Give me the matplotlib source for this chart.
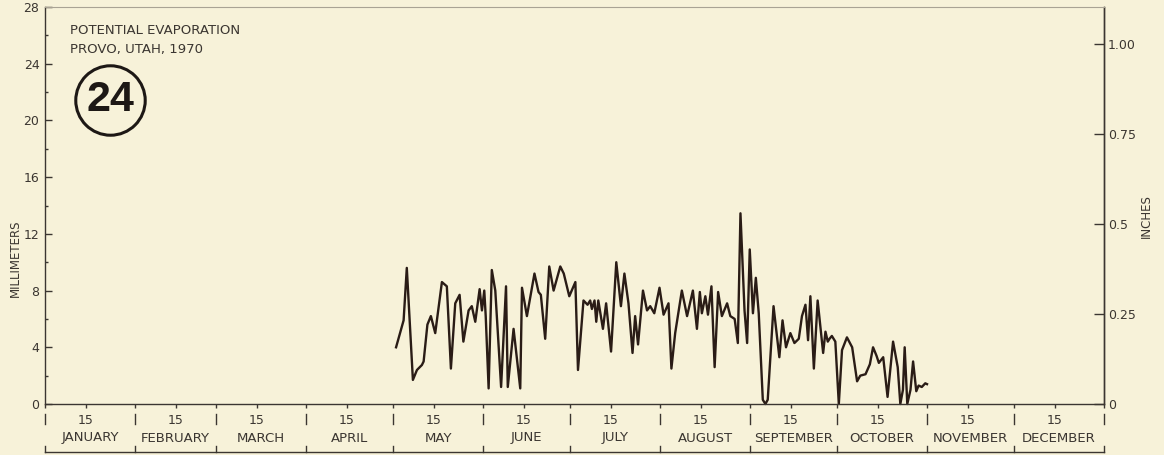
import matplotlib
matplotlib.use("Agg")
import matplotlib.pyplot as plt
import matplotlib.transforms as mtrans

# ---- data (days after Jan 1, 1970; potential evaporation in mm) ----
day = [121.0, 123.6, 124.7, 126.8, 128.2, 129.9, 130.5, 131.8, 133.0, 134.5,
       136.8, 138.5, 139.9, 141.4, 142.9, 144.2, 146.0, 147.1, 148.3, 149.8,
       150.6, 151.4, 151.9, 152.9, 154.0, 155.2, 157.2, 158.9, 159.5, 161.5,
       163.8, 164.4, 166.1, 168.7, 170.1, 170.9, 172.4, 173.8, 175.3, 177.6,
       178.8, 180.7, 182.8, 183.7, 185.6, 187.0, 187.9, 188.5, 189.4, 190.0,
       190.7, 192.3, 193.4, 195.1, 196.9, 198.5, 199.7, 201.1, 202.5, 203.4,
       204.4, 206.1, 207.5, 208.6, 210.0, 211.8, 213.2, 214.9, 215.9, 217.2,
       219.5, 221.3, 223.3, 224.7, 225.7, 226.4, 227.6, 228.5, 229.7, 230.8,
       232.0, 233.3, 235.1, 236.2, 237.7, 238.8, 239.7, 241.1, 242.0, 242.9,
       244.0, 245.0, 246.0, 247.4, 248.3, 249.1, 251.1, 253.1, 254.2, 255.4,
       256.9, 258.3, 259.8, 260.9, 262.1, 263.0, 263.8, 265.0, 266.3, 268.2,
       269.0, 269.8, 270.4, 271.2, 272.4, 273.6, 274.7, 276.4, 278.2, 279.9,
       281.0, 282.8, 284.3, 285.4, 286.6, 287.4, 288.9, 290.4, 292.3, 293.9,
       294.8, 295.7, 296.3, 297.2, 298.3, 299.2, 300.3, 301.1, 302.2, 303.4,
       304.0]
evap_mm = [4.0, 5.9, 9.6, 1.7, 2.4, 2.75, 3.0, 5.6, 6.2, 5.0,
           8.6, 8.3, 2.5, 7.1, 7.7, 4.4, 6.6, 6.9, 5.8, 8.1,
           6.6, 8.0, 6.2, 1.1, 9.45, 8.0, 1.2, 8.3, 1.2, 5.3,
           1.1, 8.2, 6.2, 9.2, 7.9, 7.7, 4.6, 9.7, 8.0, 9.7,
           9.2, 7.6, 8.6, 2.4, 7.3, 7.0, 7.3, 6.7, 7.3, 5.8,
           7.3, 5.3, 7.1, 3.7, 10.0, 6.9, 9.2, 7.1, 3.6, 6.2,
           4.2, 8.0, 6.6, 6.9, 6.4, 8.2, 6.3, 7.1, 2.5, 5.0,
           8.0, 6.2, 8.0, 5.3, 7.9, 6.4, 7.6, 6.3, 8.3, 2.6,
           7.9, 6.2, 7.1, 6.2, 6.0, 4.3, 13.45, 6.6, 4.3, 10.9,
           6.4, 8.9, 6.4, 0.3, 0.0, 0.3, 6.9, 3.3, 5.9, 4.0,
           5.0, 4.3, 4.6, 6.2, 7.0, 4.5, 7.6, 2.5, 7.3, 3.6,
           5.1, 4.4, 4.6, 4.8, 4.4, 0.0, 3.8, 4.7, 4.0, 1.6,
           2.0, 2.1, 2.8, 4.0, 3.4, 2.9, 3.3, 0.5, 4.4, 2.6,
           0.0, 1.0, 4.0, 0.0, 1.0, 3.0, 0.9, 1.3, 1.2, 1.46,
           1.4]

months = ["JANUARY", "FEBRUARY", "MARCH", "APRIL", "MAY", "JUNE", "JULY",
          "AUGUST", "SEPTEMBER", "OCTOBER", "NOVEMBER", "DECEMBER"]
month_start = [0, 31, 59, 90, 120, 151, 181, 212, 243, 273, 304, 334, 365]
mm_ticks = [0, 4, 8, 12, 16, 20, 24, 28]
inch_ticks = [0, 0.25, 0.5, 0.75, 1.0]
inch_labels = ["0", "0.25", "0.5", "0.75", "1.00"]

# ---- style ----
bg = "#f7f2d9"
ink = "#3b3631"
line_c = "#2a1c16"

W, H = 1164, 455
fig = plt.figure(figsize=(W / 100, H / 100), dpi=100, facecolor=bg)
ax = fig.add_axes([45 / W, 1 - 404 / H, 1059 / W, 397 / H])
ax.set_facecolor(bg)

ax.plot(day, evap_mm, color=line_c, lw=1.7, solid_joinstyle="round", clip_on=False)

ax.set_xlim(0, 365)
ax.set_ylim(0, 28)

for side in ["left", "right", "bottom"]:
    ax.spines[side].set_color(ink)
    ax.spines[side].set_linewidth(1.0)
ax.spines["top"].set_color("#a9a394")
ax.spines["top"].set_linewidth(0.8)

# left axis (millimeters)
ax.set_yticks(mm_ticks)
ax.set_yticklabels([str(v) for v in mm_ticks])
ax.set_yticks([2, 6, 10, 14, 18, 22, 26], minor=True)
ax.tick_params(axis="y", which="major", direction="in", length=5, width=1,
               colors=ink, labelsize=9, pad=4)
ax.tick_params(axis="y", which="minor", direction="in", length=2.5, width=1,
               colors=ink)

# bottom axis ticks: month starts and 15ths
fifteenth = [m + 14 for m in month_start[:-1]]
ax.set_xticks(month_start + fifteenth)
ax.tick_params(axis="x", direction="out", length=3, width=1, colors=ink,
               labelbottom=False)

# right axis (inches)
ax2 = ax.secondary_yaxis("right", functions=(lambda v: v / 25.4, lambda v: v * 25.4))
ax2.set_yticks(inch_ticks)
ax2.set_yticklabels(inch_labels)
ax2.tick_params(axis="y", direction="in", length=7, width=1, colors=ink,
                labelsize=9, pad=3)
ax2.spines["right"].set_color(ink)
ax2.spines["right"].set_linewidth(1.0)

# month label band below the axis
trans = mtrans.blended_transform_factory(ax.transData, ax.transAxes)
y15 = (404 - 420) / 397
yname = (404 - 438) / 397
ybot = (404 - 452) / 397
for i, name in enumerate(months):
    s, e = month_start[i], month_start[i + 1]
    ax.text(s + 14, y15, "15", transform=trans, ha="center", va="center",
            fontsize=9, color=ink)
    ax.text((s + e) / 2, yname, name, transform=trans, ha="center", va="center",
            fontsize=9.5, color=ink)
for m in month_start:
    ax.plot([m, m], [(404 - 414) / 397, (404 - 424) / 397], transform=trans,
            color=ink, lw=1.0, clip_on=False)
    ax.plot([m, m], [ybot, ybot + 6 / 397], transform=trans,
            color=ink, lw=1.0, clip_on=False)
ax.plot([0, 365], [ybot, ybot], transform=trans, color=ink, lw=1.0, clip_on=False)

# axis titles
fig.text(15 / W, 1 - 258 / H, "MILLIMETERS", rotation=90, ha="center", va="center",
         fontsize=8.5, color=ink)
fig.text(1146 / W, 1 - 216 / H, "INCHES", rotation=90, ha="center", va="center",
         fontsize=8.5, color=ink)

# chart title
fig.text(70 / W, 1 - 30 / H, "POTENTIAL EVAPORATION", ha="left", va="center",
         fontsize=9.5, color=ink)
fig.text(70 / W, 1 - 50 / H, "PROVO, UTAH, 1970", ha="left", va="center",
         fontsize=9.5, color=ink)

# plate number in a circle
cx, cy = (110 - 45) / 1059, (404 - 100) / 397
ax.plot([cx], [cy], transform=ax.transAxes, marker="o", markersize=50,
        mfc="none", mec="#1d1815", mew=2.2, clip_on=False)
ax.text(cx, cy, "24", transform=ax.transAxes, ha="center", va="center",
        fontsize=31, fontweight="bold", color="#1d1815",
        family=["Liberation Sans", "DejaVu Sans"])

fig.savefig("out.png", dpi=100, facecolor=bg)
